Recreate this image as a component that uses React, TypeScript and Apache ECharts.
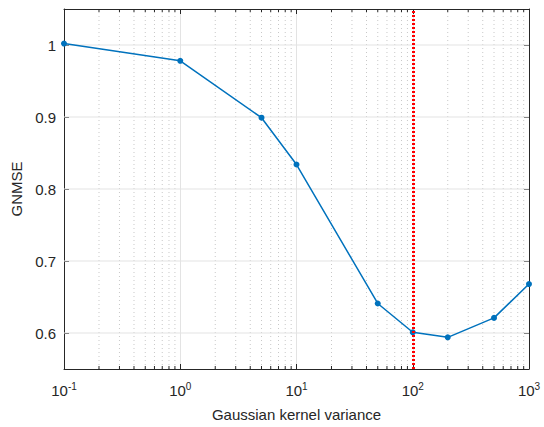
import React, { useEffect, useRef } from "react";
import * as echarts from "echarts";

const xValues = [0.1, 1, 5, 10, 50, 100, 200, 500, 1000];
const gnmse = [1.002, 0.978, 0.899, 0.834, 0.641, 0.601, 0.594, 0.621, 0.668];
const yTicks = [0.6, 0.7, 0.8, 0.9, 1];
const minorX = [
  0.2, 0.3, 0.4, 0.5, 0.6, 0.7, 0.8, 0.9,
  2, 3, 4, 5, 6, 7, 8, 9,
  20, 30, 40, 50, 60, 70, 80, 90,
  200, 300, 400, 500, 600, 700, 800, 900,
];
const optimum = 100;
const yMin = 0.55;
const yMax = 1.05;

const AXIS = "#262626";
const FONT = "Liberation Sans, Arial, Helvetica, sans-serif";

export default function App() {
  const ref = useRef<HTMLDivElement>(null);
  useEffect(() => {
    if (!ref.current) return;
    const chart = echarts.init(ref.current, undefined, { renderer: "svg" });
    const xAxisBase = {
      type: "log" as const,
      logBase: 10,
      min: 0.1,
      max: 1000,
      axisLine: { show: true, onZero: false, lineStyle: { color: AXIS, width: 1 } },
      axisTick: { show: true, inside: true, length: 5, lineStyle: { color: AXIS } },
      minorTick: { show: false },
    };
    const yAxisBase = {
      type: "value" as const,
      min: yMin,
      max: yMax,
      axisLine: { show: true, onZero: false, lineStyle: { color: AXIS, width: 1 } },
      axisTick: { show: true, inside: true, length: 5, customValues: yTicks, lineStyle: { color: AXIS } },
    };
    chart.setOption({
      animation: false,
      textStyle: { fontFamily: FONT },
      grid: { left: 64, right: 15, top: 9, bottom: 57, containLabel: false },
      xAxis: [
        {
          ...xAxisBase,
          position: "bottom",
          name: "Gaussian kernel variance",
          nameLocation: "middle",
          nameGap: 38,
          nameTextStyle: { color: AXIS, fontSize: 15, fontFamily: FONT },
          splitLine: { show: true, lineStyle: { color: "#e3e3e3", width: 1 } },
          axisLabel: {
            show: true,
            margin: 12,
            color: AXIS,
            formatter: (v: number) => {
              const e = Math.round(Math.log10(v));
              return `{b|10}{s|${e}}`;
            },
            rich: {
              b: { fontSize: 15, color: AXIS, fontFamily: FONT },
              s: { fontSize: 10, color: AXIS, fontFamily: FONT, padding: [0, 0, 9, 0] },
            },
          },
        },
        {
          ...xAxisBase,
          position: "top",
          splitLine: { show: false },
          axisLabel: { show: false },
        },
      ],
      yAxis: [
        {
          ...yAxisBase,
          position: "left",
          name: "GNMSE",
          nameLocation: "middle",
          nameGap: 38,
          nameRotate: 90,
          nameTextStyle: { color: AXIS, fontSize: 15, fontFamily: FONT },
          splitLine: { show: false },
          axisLabel: {
            show: true,
            customValues: yTicks,
            margin: 8,
            color: AXIS,
            fontSize: 15,
            fontFamily: FONT,
            formatter: (v: number) => String(Number(v.toFixed(2))),
          },
        },
        {
          ...yAxisBase,
          position: "right",
          splitLine: { show: false },
          axisLabel: { show: false },
        },
      ],
      series: [
        {
          type: "custom",
          silent: true,
          z: 1,
          xAxisIndex: 0,
          yAxisIndex: 0,
          encode: { x: 0, y: 1 },
          data: minorX.map((x) => [x, yMin]),
          renderItem: (params: any, api: any) => {
            const x = api.value(0);
            const b = api.coord([x, yMin]);
            const t = api.coord([x, yMax]);
            return {
              type: "group",
              children: [
                {
                  type: "line",
                  shape: { x1: b[0], y1: b[1], x2: t[0], y2: t[1] },
                  style: { stroke: "#c8c8c8", lineWidth: 1, lineDash: [1, 3] },
                },
                {
                  type: "line",
                  shape: { x1: b[0], y1: b[1], x2: b[0], y2: b[1] - 3 },
                  style: { stroke: AXIS, lineWidth: 1 },
                },
                {
                  type: "line",
                  shape: { x1: t[0], y1: t[1], x2: t[0], y2: t[1] + 3 },
                  style: { stroke: AXIS, lineWidth: 1 },
                },
              ],
            };
          },
        },
        {
          type: "custom",
          silent: true,
          z: 1,
          xAxisIndex: 0,
          yAxisIndex: 0,
          encode: { x: 0, y: 1 },
          data: yTicks.map((y) => [0.1, y]),
          renderItem: (params: any, api: any) => {
            const y = api.value(1);
            const l = api.coord([0.1, y]);
            const r = api.coord([1000, y]);
            return {
              type: "line",
              shape: { x1: l[0], y1: l[1], x2: r[0], y2: r[1] },
              style: { stroke: "#e3e3e3", lineWidth: 1 },
            };
          },
        },
        {
          type: "line",
          xAxisIndex: 0,
          yAxisIndex: 0,
          z: 3,
          data: xValues.map((x, i) => [x, gnmse[i]]),
          lineStyle: { color: "#0072BD", width: 1.5 },
          itemStyle: { color: "#0072BD" },
          symbol: "circle",
          symbolSize: 6,
          markLine: {
            silent: true,
            symbol: ["none", "none"],
            label: { show: false },
            lineStyle: { color: "#ff0000", width: 3, type: [2, 2] },
            data: [{ xAxis: optimum }],
          },
        },
      ],
    });
    return () => chart.dispose();
  }, []);
  return <div ref={ref} style={{ width: 544, height: 427, position: "absolute", left: 0, top: 0 }} />;
}
